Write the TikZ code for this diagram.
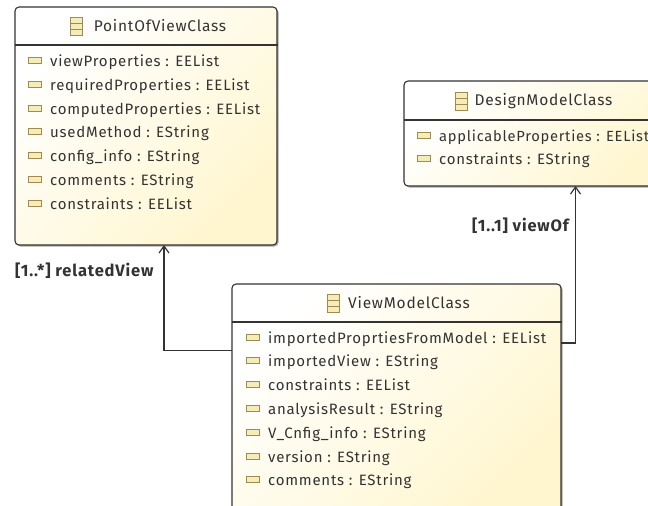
\documentclass[tikz,border=0pt]{standalone}
\usepackage{fontspec}
\setmainfont[LetterSpace=5]{Fira Sans}
\usetikzlibrary{shadows, arrows.meta}
\definecolor{classfill}{HTML}{FFF6CF}
\definecolor{iconedge}{HTML}{A08A50}
\definecolor{iconfill}{HTML}{F5EDB8}
\definecolor{inktext}{HTML}{333333}
\tikzstyle{classbox} = [rectangle, rounded corners=4pt, draw=inktext, line width=1.1pt, top color=white, bottom color=classfill, shading angle=45, drop shadow={shadow xshift=1.5pt, shadow yshift=-1.5pt, opacity=0.35, fill=black}]
\tikzstyle{classicon} = [rectangle, draw=iconedge, line width=0.9pt, fill=iconfill, minimum width=12pt, minimum height=18pt, inner sep=0pt, path picture={\draw [iconedge, line width=0.9pt] ([yshift=3pt]path picture bounding box.west) -- ([yshift=3pt]path picture bounding box.east); \draw [iconedge, line width=0.9pt] ([yshift=-3pt]path picture bounding box.west) -- ([yshift=-3pt]path picture bounding box.east);}]
\tikzstyle{attricon} = [rectangle, draw=iconedge, line width=0.9pt, fill=iconfill, minimum width=13pt, minimum height=6pt, inner sep=0pt]
\tikzstyle{classname} = [inner sep=0pt, text=inktext, font=\fontsize{15.5}{18}\selectfont]
\tikzstyle{attr} = [anchor=west, inner sep=0pt, text height=12pt, text depth=0pt, text=inktext, font=\fontsize{15}{18}\selectfont, label={[attricon, label distance=8pt]left:{}}]
\tikzstyle{role} = [anchor=west, inner sep=0pt, text=inktext, font=\fontsize{16.5}{18}\selectfont\bfseries]
\tikzstyle{sepline} = [draw=inktext, line width=1.1pt]
\tikzstyle{arrow} = [draw=inktext, line width=1.2pt, ->, >={Straight Barb[length=7pt, width=10pt]}]
\begin{document}
\begin{tikzpicture}[x=1pt, y=-1pt]
\path [use as bounding box, clip] (0,0) rectangle (648,506);
% classes
\node (pointofview) [classbox, minimum width=262pt, minimum height=238pt] at (146,126) {};
\node (designmodel) [classbox, minimum width=270pt, minimum height=105pt] at (539,133.5) {};
\node (viewmodel) [classbox, minimum width=329pt, minimum height=230pt] at (396.5,399) {};
% PointOfViewClass
\node (pvicon) [classicon] at (76,26) {};
\node (pvname) [classname] at (160,26) {PointOfViewClass};
\coordinate (pvsep) at (15,45);
\draw [sepline] (pvsep) -- (pvsep -| pointofview.east);
\node (pvone) [attr] at (50,60) {viewProperties : EEList};
\node (pvtwo) [attr, yshift=-24pt] at (pvone.west) {requiredProperties : EEList};
\node (pvthree) [attr, yshift=-24pt] at (pvtwo.west) {computedProperties : EEList};
\node (pvfour) [attr, yshift=-23.8pt] at (pvthree.west) {usedMethod : EString};
\node (pvfive) [attr, yshift=-23.8pt] at (pvfour.west) {config\_info : EString};
\node (pvsix) [attr, yshift=-23.8pt] at (pvfive.west) {comments : EString};
\node (pvseven) [attr, yshift=-23.8pt] at (pvsix.west) {constraints : EEList};
% DesignModelClass
\node (dmicon) [classicon] at (461,101) {};
\node (dmname) [classname] at (543.5,101) {DesignModelClass};
\coordinate (dmsep) at (404,120);
\draw [sepline] (dmsep) -- (dmsep -| designmodel.east);
\node (dmone) [attr, font=\fontsize{14.7}{18}\selectfont] at (439,135) {applicableProperties : EEList};
\node (dmtwo) [attr, yshift=-23.5pt] at (dmone.west) {constraints : EString};
% ViewModelClass
\node (vmicon) [classicon] at (333,303) {};
\node (vmname) [classname] at (409,303) {ViewModelClass};
\coordinate (vmsep) at (232,322);
\draw [sepline] (vmsep) -- (vmsep -| viewmodel.east);
\node (vmone) [attr] at (268,337) {importedProprtiesFromModel : EEList};
\node (vmtwo) [attr, yshift=-23.8pt] at (vmone.west) {importedView : EString};
\node (vmthree) [attr, yshift=-23.8pt] at (vmtwo.west) {constraints : EEList};
\node (vmfour) [attr, yshift=-23.8pt] at (vmthree.west) {analysisResult : EString};
\node (vmfive) [attr, yshift=-23.8pt] at (vmfour.west) {V\_Cnfig\_info : EString};
\node (vmsix) [attr, yshift=-23.8pt] at (vmfive.west) {version : EString};
\node (vmseven) [attr, yshift=-23.8pt] at (vmsix.west) {comments : EString};
% references
\coordinate (relatedstart) at (232,350.5);
\coordinate (relatedend) at (164,245);
\coordinate (viewofstart) at (561,343);
\coordinate (viewofend) at (575.5,186);
\draw [arrow] (relatedstart) -| (relatedend);
\draw [arrow] (viewofstart) -| (viewofend);
\node (relatedlabel) [role] at (15,271) {[1..*] relatedView};
\node (viewoflabel) [role] at (472,226) {[1..1] viewOf};
\end{tikzpicture}
\end{document}
